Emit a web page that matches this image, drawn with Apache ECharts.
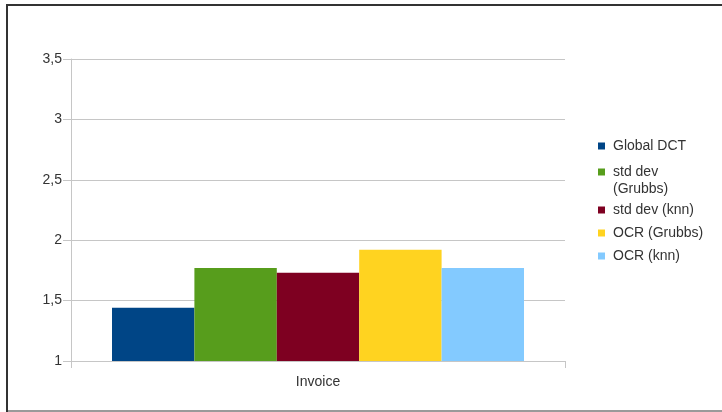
<!DOCTYPE html>
<html>
<head>
<meta charset="utf-8">
<script src="https://cdn.jsdelivr.net/npm/echarts@6/dist/echarts.min.js"></script>
<style>
  html, body { margin: 0; padding: 0; background: #fff; }
  #chart { width: 722px; height: 412px; }
</style>
</head>
<body>
<div id="chart"></div>
<script>
// Chart data
const categories = ['Invoice'];
const seriesNames = ['Global DCT', 'std dev (Grubbs)', 'std dev (knn)', 'OCR (Grubbs)', 'OCR (knn)'];
const globalDct = [1.44];
const stdDevGrubbs = [1.77];
const stdDevKnn = [1.73];
const ocrGrubbs = [1.92];
const ocrKnn = [1.77];
const yTicks = [1, 1.5, 2, 2.5, 3, 3.5];

const seriesValues = [globalDct, stdDevGrubbs, stdDevKnn, ocrGrubbs, ocrKnn];
const colors = ['#004586', '#579d1c', '#7e0021', '#ffd320', '#83caff'];

const font = '"Liberation Sans", Arial, sans-serif';
const textColor = '#333333';
const gridColor = '#c6c6c6';

// One legend block per entry so each row can sit at its own height.
// The wrapped entry gets a blank leading line so its swatch lines up with "std dev".
const legendCenters = [146, 172, 210, 233, 256];
const legends = seriesNames.map((name, i) => {
  const twoLine = name === 'std dev (Grubbs)';
  return {
    data: [name],
    left: 598,
    top: twoLine ? legendCenters[i] - 25.5 : legendCenters[i] - 8,
    padding: 0,
    itemWidth: 7,
    itemHeight: 7,
    icon: 'rect',
    selectedMode: false,
    formatter: n => (n === 'std dev (Grubbs)' ? ' \nstd dev\n(Grubbs)' : n),
    textStyle: {
      fontFamily: font,
      fontSize: 14,
      color: textColor,
      lineHeight: twoLine ? 17 : 16,
      padding: [0, 0, 0, 3]
    }
  };
});

const chart = echarts.init(document.getElementById('chart'), null, { renderer: 'canvas' });

chart.setOption({
  backgroundColor: '#ffffff',
  animation: false,
  color: colors,
  grid: { left: 71, right: 157, top: 59, bottom: 51, containLabel: false },
  legend: legends,
  xAxis: {
    type: 'category',
    data: categories,
    axisLine: { lineStyle: { color: gridColor, width: 1 } },
    axisTick: { show: true, length: 7, lineStyle: { color: gridColor } },
    axisLabel: { fontFamily: font, fontSize: 14, color: textColor, margin: 14 }
  },
  yAxis: {
    type: 'value',
    min: yTicks[0],
    max: yTicks[yTicks.length - 1],
    interval: 0.5,
    axisLine: { show: true, lineStyle: { color: gridColor, width: 1 } },
    axisTick: { show: true, length: 8, lineStyle: { color: gridColor } },
    splitLine: { show: true, lineStyle: { color: gridColor, width: 1 } },
    axisLabel: {
      fontFamily: font,
      fontSize: 14,
      color: textColor,
      margin: 9,
      formatter: v => String(v).replace('.', ',')
    }
  },
  series: seriesNames.map((name, i) => ({
    name: name,
    type: 'bar',
    data: seriesValues[i],
    barGap: '0%',
    barCategoryGap: '16.6%',
    itemStyle: { color: colors[i] }
  })),
  graphic: [
    // Frame around the chart area
    { type: 'rect', silent: true, shape: { x: 6, y: 4, width: 716, height: 2 }, style: { fill: '#333333' } },
    { type: 'rect', silent: true, shape: { x: 6, y: 4, width: 2, height: 408 }, style: { fill: '#333333' } },
    { type: 'rect', silent: true, shape: { x: 8, y: 410, width: 714, height: 2 }, style: { fill: '#9a9a9a' } }
  ]
});
</script>
</body>
</html>
